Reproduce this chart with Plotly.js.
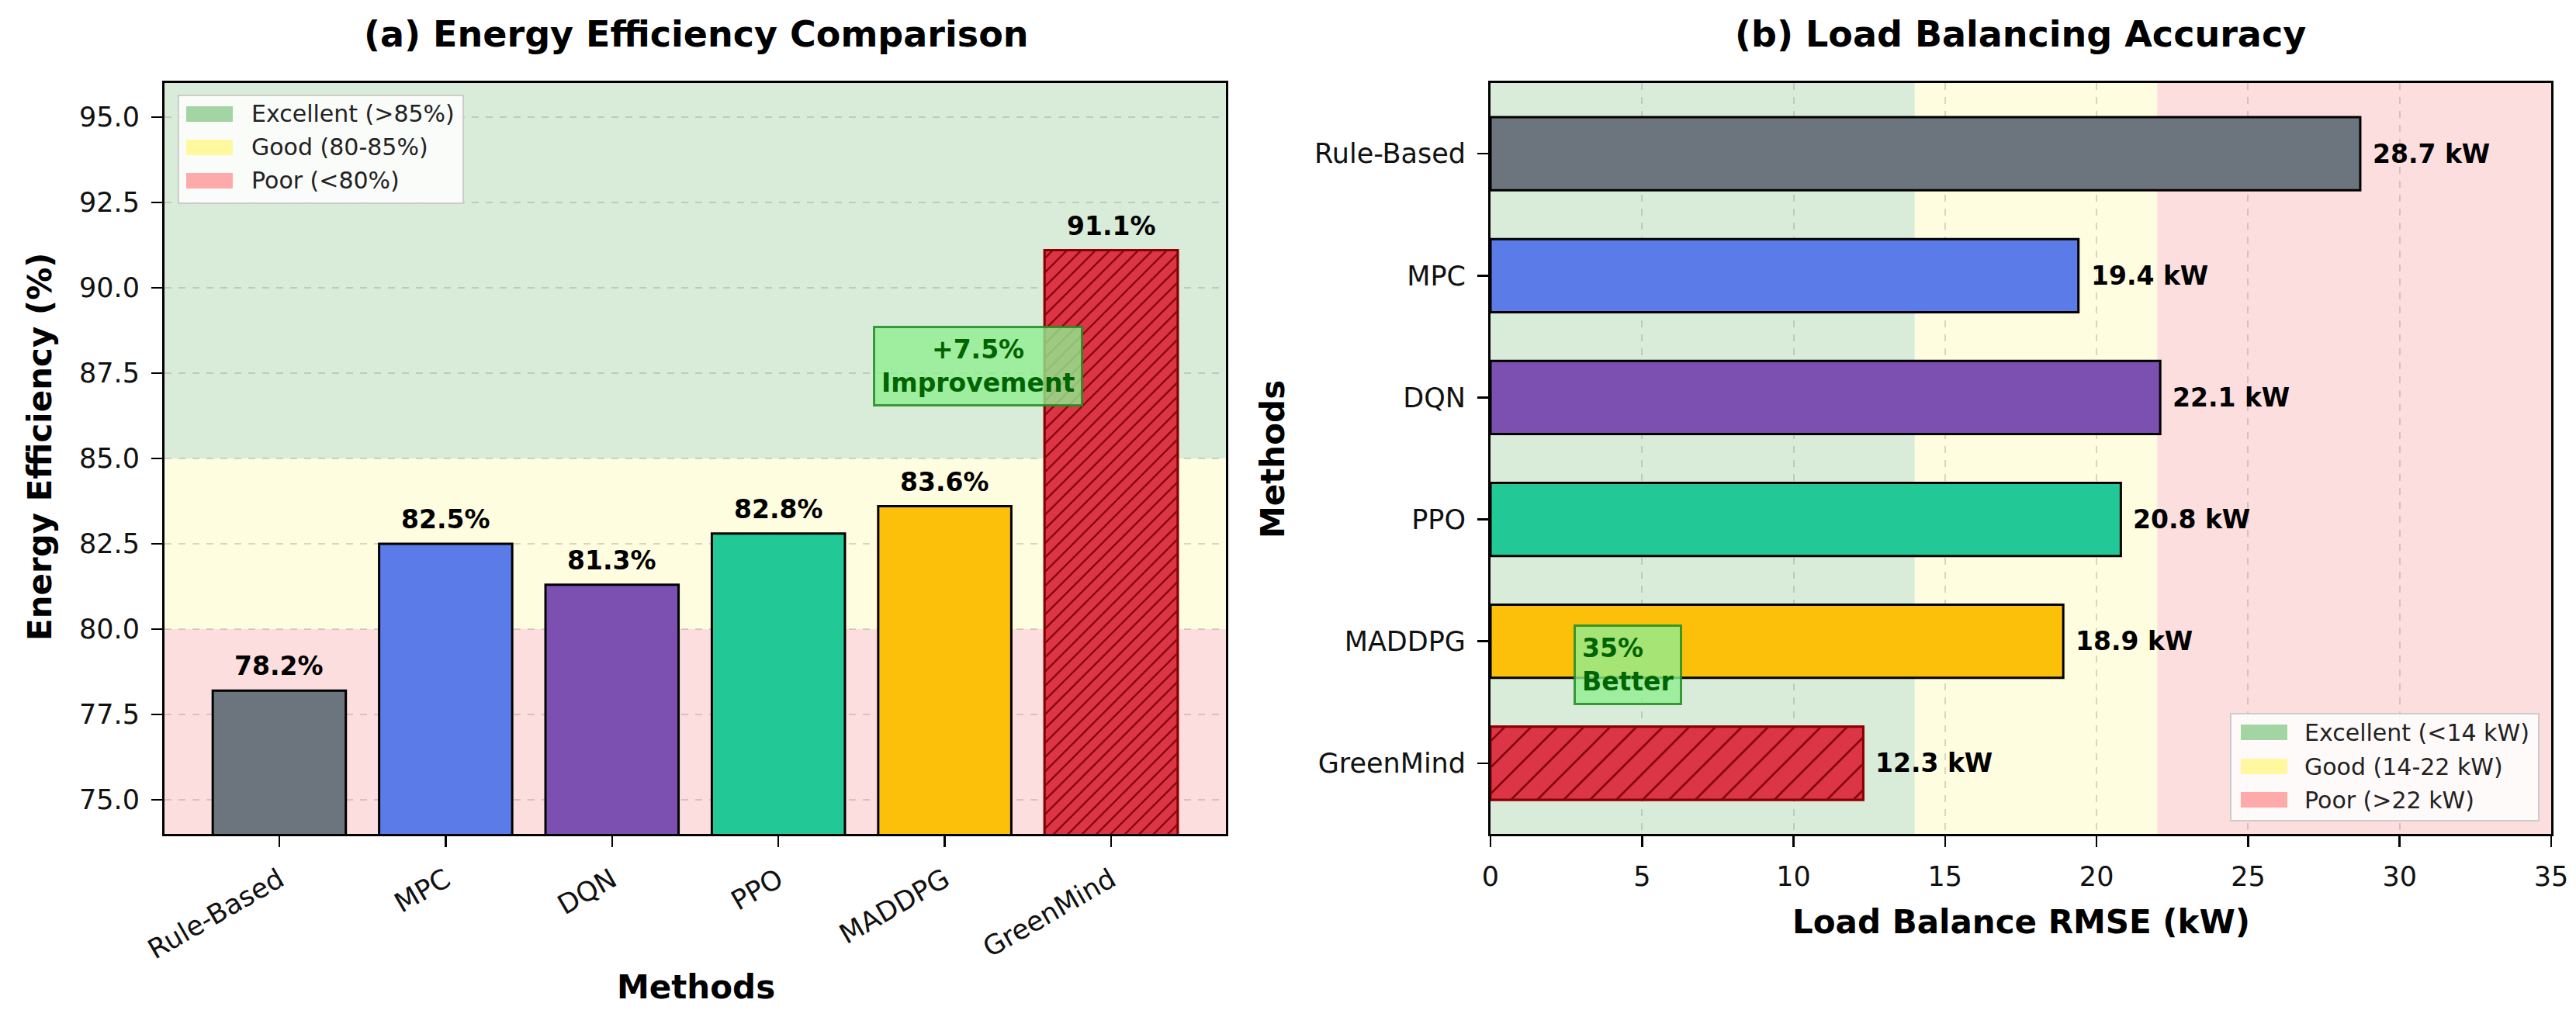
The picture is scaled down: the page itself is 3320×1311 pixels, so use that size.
<!DOCTYPE html>
<html><head><meta charset="utf-8">
<script src="https://cdn.plot.ly/plotly-3.0.1.min.js"></script>
<style>html,body{margin:0;padding:0;background:#fff}#chart{width:3320px;height:1311px}</style>
</head><body><div id="chart"></div>
<script>
// ---- data ----
const methods = ['Rule-Based', 'MPC', 'DQN', 'PPO', 'MADDPG', 'GreenMind'];
const efficiency = [78.2, 82.5, 81.3, 82.8, 83.6, 91.1];
const rmse = [28.7, 19.4, 22.1, 20.8, 18.9, 12.3];
const barColors = ['#6c757d', '#5b7be8', '#7b50b0', '#22c997', '#fdc00a', '#dc3545'];
const edgeColors = ['#000000', '#000000', '#000000', '#000000', '#000000', '#8b0000'];
const hatchedMethod = 'GreenMind';
const effTicks = [75.0, 77.5, 80.0, 82.5, 85.0, 87.5, 90.0, 92.5, 95.0];
const rmseTicks = [0, 5, 10, 15, 20, 25, 30, 35];
const effThresholds = [80, 85];
const rmseThresholds = [14, 22];
const effLegend = ['Excellent (>85%)', 'Good (80-85%)', 'Poor (<80%)'];
const rmseLegend = ['Excellent (<14 kW)', 'Good (14-22 kW)', 'Poor (>22 kW)'];
const effNote = '+7.5%<br>Improvement';
const rmseNote = '35%<br>Better';

// ---- styling ----
const W = 3320, H = 1311;
const px = x => x / W, py = y => 1 - y / H;
const FONT = 'DejaVu Sans';
const bandColors = ['#d9ecd9', '#fffde0', '#fddede'];
const legendPatch = ['#a3d4a3', '#fff89e', '#ffaaaa'];
const gridStyle = {gridcolor: 'rgba(140,140,140,0.35)', griddash: 'dash', gridwidth: 2};
const hi = methods.indexOf(hatchedMethod);

const traces = [
  {
    type: 'bar', x: methods, y: efficiency, width: 0.8, xaxis: 'x', yaxis: 'y',
    marker: {color: barColors, line: {color: edgeColors, width: 3}},
    hoverinfo: 'skip', showlegend: false
  },
  {
    type: 'bar', x: [methods[hi]], y: [efficiency[hi]], width: 0.8, xaxis: 'x', yaxis: 'y',
    marker: {color: barColors[hi], line: {color: edgeColors[hi], width: 3},
      pattern: {shape: '/', fillmode: 'replace', bgcolor: barColors[hi], fgcolor: '#7a0000', fgopacity: 1, size: 13, solidity: 0.16}},
    hoverinfo: 'skip', showlegend: false
  },
  {
    type: 'bar', orientation: 'h', x: rmse, y: methods, width: 0.6, xaxis: 'x2', yaxis: 'y2',
    marker: {color: barColors, line: {color: edgeColors, width: 3}},
    hoverinfo: 'skip', showlegend: false
  },
  {
    type: 'bar', orientation: 'h', x: [rmse[hi]], y: [methods[hi]], width: 0.6, xaxis: 'x2', yaxis: 'y2',
    marker: {color: barColors[hi], line: {color: edgeColors[hi], width: 3},
      pattern: {shape: '/', fillmode: 'replace', bgcolor: barColors[hi], fgcolor: '#7a0000', fgopacity: 1, size: 24, solidity: 0.1}},
    hoverinfo: 'skip', showlegend: false
  }
];

const axisCommon = {
  showline: true, mirror: true, linecolor: '#000', linewidth: 3,
  ticks: 'outside', ticklen: 14, tickwidth: 2.5, tickcolor: '#000',
  tickfont: {family: FONT, size: 35, color: '#111'},
  zeroline: false, automargin: false, ticklabelstandoff: 8
};

const shapes = [];
const effB = [[effThresholds[1], 96], [effThresholds[0], effThresholds[1]], [74, effThresholds[0]]];
effB.forEach((b, i) => shapes.push({type: 'rect', xref: 'x domain', yref: 'y', x0: 0, x1: 1, y0: b[0], y1: b[1],
  fillcolor: bandColors[i], line: {width: 0}, layer: 'below'}));
const rmseB = [[0, rmseThresholds[0]], [rmseThresholds[0], rmseThresholds[1]], [rmseThresholds[1], 35]];
rmseB.forEach((b, i) => shapes.push({type: 'rect', xref: 'x2', yref: 'y2 domain', x0: b[0], x1: b[1], y0: 0, y1: 1,
  fillcolor: bandColors[i], line: {width: 0}, layer: 'below'}));

const annotations = [];
annotations.push({text: '<b>(a) Energy Efficiency Comparison</b>', xref: 'paper', yref: 'paper', x: px(897), y: py(44),
  xanchor: 'center', yanchor: 'middle', showarrow: false, font: {family: FONT, size: 46, color: '#000'}});
annotations.push({text: '<b>(b) Load Balancing Accuracy</b>', xref: 'paper', yref: 'paper', x: px(2604), y: py(44),
  xanchor: 'center', yanchor: 'middle', showarrow: false, font: {family: FONT, size: 46, color: '#000'}});
annotations.push({text: '<b>Methods</b>', xref: 'paper', yref: 'paper', x: px(897), y: py(1272),
  xanchor: 'center', yanchor: 'middle', showarrow: false, font: {family: FONT, size: 42, color: '#000'}});
annotations.push({text: '<b>Energy Efficiency (%)</b>', xref: 'paper', yref: 'paper', x: px(52), y: py(576), textangle: -90,
  xanchor: 'center', yanchor: 'middle', showarrow: false, font: {family: FONT, size: 42, color: '#000'}});
annotations.push({text: '<b>Load Balance RMSE (kW)</b>', xref: 'paper', yref: 'paper', x: px(2605), y: py(1188),
  xanchor: 'center', yanchor: 'middle', showarrow: false, font: {family: FONT, size: 42, color: '#000'}});
annotations.push({text: '<b>Methods</b>', xref: 'paper', yref: 'paper', x: px(1640), y: py(592), textangle: -90,
  xanchor: 'center', yanchor: 'middle', showarrow: false, font: {family: FONT, size: 42, color: '#000'}});

methods.forEach((m, i) => {
  annotations.push({text: '<b>' + efficiency[i].toFixed(1) + '%</b>', xref: 'x', yref: 'y', x: m, y: efficiency[i],
    xanchor: 'center', yanchor: 'bottom', yshift: 10, showarrow: false, font: {family: FONT, size: 33, color: '#000'}});
  annotations.push({text: '<b>' + rmse[i].toFixed(1) + ' kW</b>', xref: 'x2', yref: 'y2', x: rmse[i], y: m,
    xanchor: 'left', yanchor: 'middle', xshift: 14, showarrow: false, font: {family: FONT, size: 33, color: '#000'}});
});

annotations.push({text: '<b>' + effNote + '</b>', xref: 'x', yref: 'y', x: 4.2, y: 87.7, xanchor: 'center', yanchor: 'middle',
  showarrow: false, align: 'center', bgcolor: 'rgba(144,238,144,0.8)', bordercolor: 'rgba(30,140,30,0.85)', borderwidth: 3, borderpad: 8,
  font: {family: FONT, size: 33, color: '#006400'}});
annotations.push({text: '<b>' + rmseNote + '</b>', xref: 'x2', yref: 'y2', x: 4.54, y: 4.19, xanchor: 'center', yanchor: 'middle',
  showarrow: false, align: 'left', bgcolor: 'rgba(144,238,144,0.8)', bordercolor: 'rgba(30,140,30,0.85)', borderwidth: 3, borderpad: 8,
  font: {family: FONT, size: 33, color: '#006400'}});

function legendBox(x0, y0, x1, y1, patchX, textX, rows, labels) {
  shapes.push({type: 'rect', xref: 'paper', yref: 'paper', x0: px(x0), x1: px(x1), y0: py(y1), y1: py(y0),
    fillcolor: 'rgba(255,255,255,0.85)', line: {color: '#cccccc', width: 2}, layer: 'above'});
  labels.forEach((lab, i) => {
    shapes.push({type: 'rect', xref: 'paper', yref: 'paper', x0: px(patchX), x1: px(patchX + 60), y0: py(rows[i] + 10), y1: py(rows[i] - 10),
      fillcolor: legendPatch[i], line: {width: 0}, layer: 'above'});
    annotations.push({text: lab, xref: 'paper', yref: 'paper', x: px(textX), y: py(rows[i]), xanchor: 'left', yanchor: 'middle',
      showarrow: false, font: {family: FONT, size: 30, color: '#222'}});
  });
}
legendBox(230, 123, 597, 262, 240, 322, [147, 190, 233], effLegend);
legendBox(2875, 920, 3272, 1058, 2888, 2968, [944, 988, 1031], rmseLegend);

const layout = {
  width: W, height: H,
  margin: {l: 0, r: 0, t: 0, b: 0},
  paper_bgcolor: '#fff', plot_bgcolor: '#fff',
  showlegend: false,
  font: {family: FONT},
  barmode: 'overlay',
  xaxis: Object.assign({}, axisCommon, {domain: [px(212), px(1580)], anchor: 'y', type: 'category',
    categoryorder: 'array', categoryarray: methods, range: [-0.69, 5.69], tickangle: -30, showgrid: false}),
  yaxis: Object.assign({}, axisCommon, {domain: [py(1075), py(107)], anchor: 'x', range: [74, 96],
    tickvals: effTicks, ticktext: effTicks.map(v => v.toFixed(1)), showgrid: true}, gridStyle),
  xaxis2: Object.assign({}, axisCommon, {domain: [px(1921), px(3288)], anchor: 'y2', range: [0, 35],
    tickvals: rmseTicks, showgrid: true}, gridStyle),
  yaxis2: Object.assign({}, axisCommon, {domain: [py(1075), py(107)], anchor: 'x2', type: 'category',
    categoryorder: 'array', categoryarray: methods, range: [5.58, -0.58], showgrid: false}),
  shapes: shapes,
  annotations: annotations
};

Plotly.newPlot('chart', traces, layout, {staticPlot: true, displayModeBar: false});
</script></body></html>
